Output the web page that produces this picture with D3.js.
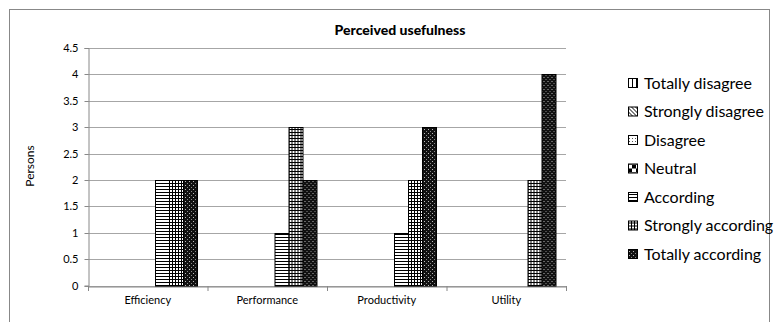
<!DOCTYPE html>
<html>
<head>
<meta charset="utf-8">
<script src="https://cdn.jsdelivr.net/npm/d3@7"></script>
<style>
  html, body { margin: 0; padding: 0; background: #fff; }
  svg { display: block; }
  text { font-family: Lato, "Open Sans", sans-serif; }
</style>
</head>
<body>
<svg id="chart" width="776" height="322"></svg>
<script>
// Survey answers: number of persons per rating for each aspect
const categories = ["Efficiency", "Performance", "Productivity", "Utility"];
const seriesNames = ["Totally disagree", "Strongly disagree", "Disagree", "Neutral",
                     "According", "Strongly according", "Totally according"];
const totallyDisagree   = [0, 0, 0, 0];
const stronglyDisagree  = [0, 0, 0, 0];
const disagree          = [0, 0, 0, 0];
const neutral           = [0, 0, 0, 0];
const according         = [2, 1, 1, 0];
const stronglyAccording = [2, 3, 2, 2];
const totallyAccording  = [2, 2, 3, 4];
const yTicks = [0, 0.5, 1, 1.5, 2, 2.5, 3, 3.5, 4, 4.5];

const seriesValues = [totallyDisagree, stronglyDisagree, disagree, neutral,
                      according, stronglyAccording, totallyAccording];

const svg = d3.select("#chart");
const defs = svg.append("defs");

// Hatch fills, one per rating
function pattern(id, w, h, draw) {
  const p = defs.append("pattern").attr("id", id)
    .attr("patternUnits", "userSpaceOnUse").attr("width", w).attr("height", h);
  draw(p);
}
pattern("p0", 4, 4, p => {
  p.append("rect").attr("width", 4).attr("height", 4).attr("fill", "#fff");
  p.append("rect").attr("x", 0).attr("width", 1).attr("height", 4).attr("fill", "#000");
});
pattern("p1", 4, 4, p => {
  p.append("rect").attr("width", 4).attr("height", 4).attr("fill", "#fff");
  p.append("path").attr("d", "M0,0 L4,4 M-1,3 L1,5 M3,-1 L5,1").attr("stroke", "#000").attr("stroke-width", 1);
});
pattern("p2", 3, 3, p => {
  p.append("rect").attr("width", 3).attr("height", 3).attr("fill", "#fff");
  p.append("rect").attr("x", 1).attr("y", 1).attr("width", 1).attr("height", 1).attr("fill", "#555");
});
pattern("p3", 8, 8, p => {
  p.append("rect").attr("width", 8).attr("height", 8).attr("fill", "#fff");
  p.append("rect").attr("width", 4).attr("height", 4).attr("fill", "#000");
  p.append("rect").attr("x", 4).attr("y", 4).attr("width", 4).attr("height", 4).attr("fill", "#000");
});
pattern("p4", 4, 3, p => {
  p.append("rect").attr("width", 4).attr("height", 3).attr("fill", "#fff");
  p.append("rect").attr("y", 0).attr("width", 4).attr("height", 1).attr("fill", "#000");
});
pattern("p5", 3, 3, p => {
  p.append("rect").attr("width", 3).attr("height", 3).attr("fill", "#fff");
  p.append("rect").attr("width", 3).attr("height", 1).attr("fill", "#000");
  p.append("rect").attr("width", 1).attr("height", 3).attr("fill", "#000");
});
pattern("p6", 4, 4, p => {
  p.append("rect").attr("width", 4).attr("height", 4).attr("fill", "#111");
  p.append("rect").attr("x", 1).attr("y", 1).attr("width", 1).attr("height", 1).attr("fill", "#bbb");
  p.append("rect").attr("x", 3).attr("y", 3).attr("width", 1).attr("height", 1).attr("fill", "#888");
});

// Outer frame
svg.append("rect").attr("x", 9.5).attr("y", 9.5).attr("width", 760).attr("height", 320)
  .attr("fill", "none").attr("stroke", "#888").attr("stroke-width", 1);

const plot = { left: 88, right: 566, top: 48, bottom: 285.5 };

const x0 = d3.scaleBand().domain(categories).range([plot.left, plot.right]).padding(0);
const x1 = d3.scaleBand().domain(d3.range(seriesNames.length))
  .range([0, x0.bandwidth()]).paddingInner(0).paddingOuter(0.75);
const y = d3.scaleLinear().domain([0, 4.5]).range([plot.bottom, plot.top]);

// Gridlines
svg.append("g").selectAll("line").data(yTicks).join("line")
  .attr("x1", plot.left).attr("x2", plot.right)
  .attr("y1", d => Math.round(y(d)) + 0.5).attr("y2", d => Math.round(y(d)) + 0.5)
  .attr("stroke", "#a6a6a6").attr("stroke-width", 1);

// Y axis
const yAxis = svg.append("g").attr("transform", `translate(${plot.left + 0.5},0)`)
  .call(d3.axisLeft(y).tickValues(yTicks).tickSize(4).tickPadding(6).tickFormat(d3.format("")));
yAxis.select(".domain").attr("stroke", "#888");
yAxis.selectAll(".tick line").attr("stroke", "#888");
yAxis.selectAll(".tick").attr("transform", d => `translate(0,${Math.round(y(d)) + 0.5})`);
yAxis.selectAll("text").attr("font-size", 11).attr("fill", "#000");

// Bars
const groups = svg.append("g").selectAll("g").data(categories).join("g")
  .attr("transform", c => `translate(${x0(c)},0)`);
groups.selectAll("rect")
  .data((c, ci) => seriesValues.map((vals, si) => ({ si, v: vals[ci] })).filter(d => d.v > 0))
  .join("rect")
  .attr("x", d => Math.round(x1(d.si)) + 0.5)
  .attr("y", d => Math.round(y(d.v)) + 0.5)
  .attr("width", Math.round(x1.bandwidth()))
  .attr("height", d => Math.round(y(0)) - Math.round(y(d.v)))
  .attr("fill", d => `url(#p${d.si})`)
  .attr("stroke", "#000").attr("stroke-width", 1);

// X axis
const xAxis = svg.append("g").attr("transform", `translate(0,${Math.round(y(0)) + 0.5})`)
  .call(d3.axisBottom(x0).tickSize(0).tickPadding(10));
xAxis.select(".domain").attr("stroke", "#888");
xAxis.selectAll("text").attr("font-size", 11).attr("fill", "#000");
svg.append("g").selectAll("line")
  .data(d3.range(categories.length + 1))
  .join("line")
  .attr("x1", i => plot.left + i * x0.bandwidth() + 0.5)
  .attr("x2", i => plot.left + i * x0.bandwidth() + 0.5)
  .attr("y1", Math.round(y(0))).attr("y2", Math.round(y(0)) + 5)
  .attr("stroke", "#888");

// Titles
svg.append("text").attr("x", 400).attr("y", 35).attr("text-anchor", "middle")
  .attr("font-size", 14).attr("font-weight", "900").text("Perceived usefulness");
svg.append("text").attr("transform", "translate(34,166) rotate(-90)")
  .attr("text-anchor", "middle").attr("font-size", 12).text("Persons");

// Legend
const legend = svg.append("g").selectAll("g").data(seriesNames).join("g")
  .attr("transform", (d, i) => `translate(628,${83 + i * 28.5})`);
legend.append("rect").attr("x", 0.5).attr("y", -4.5).attr("width", 9).attr("height", 9)
  .attr("fill", (d, i) => `url(#p${i})`).attr("stroke", "#000");
legend.append("text").attr("x", 16).attr("y", 5.5).attr("font-size", 16).text(d => d);
</script>
</body>
</html>
